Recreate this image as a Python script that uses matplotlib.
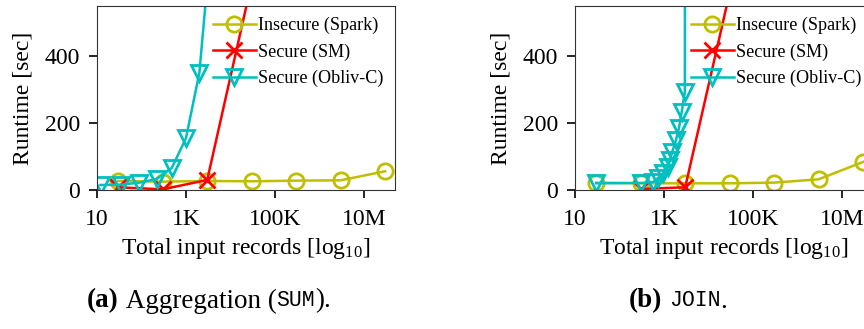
import matplotlib
matplotlib.use("Agg")
import matplotlib.pyplot as plt
from matplotlib.ticker import FixedLocator, FixedFormatter

plt.rcParams['font.family'] = ['Liberation Serif', 'DejaVu Serif']
plt.rcParams['mathtext.fontset'] = 'custom'
plt.rcParams['mathtext.rm'] = 'Liberation Serif'
plt.rcParams['mathtext.default'] = 'regular'

# (a) Aggregation (SUM)
agg_spark_n = [30, 300, 3000, 30000, 300000, 3000000, 30000000]
agg_spark_t = [27, 25, 27, 26, 28, 29, 56]
agg_sm_n = [30, 300, 3000, 30000]
agg_sm_t = [8, 2, 30, 620]
agg_obl_n = [12, 35, 90, 220, 480, 1000, 2000, 4000]
agg_obl_t = [15, 16, 22, 33, 66, 155, 350, 800]

# (b) JOIN
join_spark_n = [30, 300, 3000, 30000, 300000, 3000000, 30000000]
join_spark_t = [22, 20, 20, 20, 22, 32, 84]
join_sm_n = [300, 3000, 30000]
join_sm_t = [3, 8, 590]
join_obl_n = [30, 310, 575, 740, 960, 1230, 1380, 1520, 1860, 2170, 2500, 2950, 3050]
join_obl_t = [20, 21, 24, 36, 51, 69, 90, 113, 149, 185, 233, 293, 3000]

x_ticks = [10, 1000, 100000, 10000000]
x_tick_labels = ["10", "1K", "100K", "10M"]
y_ticks = [0, 200, 400]
series_labels = ["Insecure (Spark)", "Secure (SM)", "Secure (Obliv-C)"]

W, H = 864, 329
fig = plt.figure(figsize=(W / 100, H / 100), dpi=100)


def draw_panel(ax, spark, sm, obl):
    ax.plot(spark[0], spark[1], color='y', marker='o', markersize=11,
            markerfacecolor='none', markeredgewidth=2, lw=1.8, label=series_labels[0])
    ax.plot(sm[0], sm[1], color='r', marker='x', markersize=11,
            markeredgewidth=2, lw=1.8, label=series_labels[1])
    ax.plot(obl[0], obl[1], color='c', marker='v', markersize=11,
            markerfacecolor='none', markeredgewidth=2, lw=1.8, label=series_labels[2])
    ax.set_xscale('log')
    ax.set_xlim(10, 5e7)
    ax.set_ylim(0, 550)
    ax.xaxis.set_major_locator(FixedLocator(x_ticks))
    ax.xaxis.set_major_formatter(FixedFormatter(x_tick_labels))
    ax.xaxis.set_minor_locator(FixedLocator([]))
    ax.set_yticks(y_ticks)
    ax.tick_params(labelsize=17, length=6, width=1.2)
    ax.tick_params(axis='x', pad=8)
    ax.tick_params(axis='y', pad=6)
    for sp in ax.spines.values():
        sp.set_color('#333333')
    ax.set_xlabel("Total input records [log$_{10}$]", fontsize=17, labelpad=4)
    ax.set_ylabel("Runtime [sec]", fontsize=17, labelpad=8)
    ax.legend(loc='upper left', bbox_to_anchor=(0.365, 0.98), frameon=False,
              fontsize=13.1, handlelength=2.35, handletextpad=0.1,
              labelspacing=0.5, borderaxespad=0.0)


ax1 = fig.add_axes([97 / W, 139 / H, 298 / W, 184 / H])
draw_panel(ax1, (agg_spark_n, agg_spark_t), (agg_sm_n, agg_sm_t), (agg_obl_n, agg_obl_t))

ax2 = fig.add_axes([575 / W, 139 / H, 298 / W, 184 / H])
draw_panel(ax2, (join_spark_n, join_spark_t), (join_sm_n, join_sm_t), (join_obl_n, join_obl_t))


def caption(x_center, y, parts):
    r = fig.canvas.get_renderer()
    texts = []
    for s, kw in parts:
        opts = dict(va='center', fontsize=19.5)
        opts.update(kw)
        texts.append(fig.text(0, y, s, **opts))
    widths = [t.get_window_extent(r).width for t in texts]
    x = x_center - sum(widths) / 2
    for t, w in zip(texts, widths):
        t.set_x(x / W)
        x += w


mono = dict(family='Liberation Mono', fontsize=15.5)
caption(209, 1 - 301 / H, [("(a)", dict(weight='bold')), ("\u00a0Aggregation (", {}),
                           ("SUM", mono), (").", {})])
caption(678, 1 - 301 / H, [("(b)", dict(weight='bold')), ("\u00a0", {}),
                           ("JOIN", mono), (".", {})])

fig.savefig("out.png", dpi=100)
